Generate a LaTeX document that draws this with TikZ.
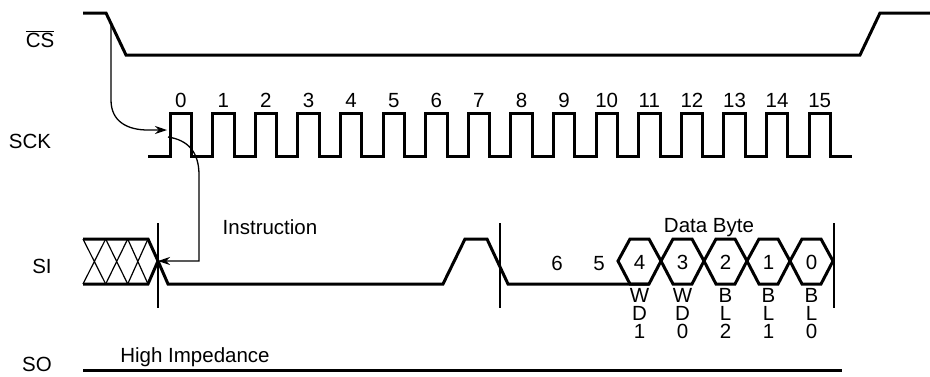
\documentclass[tikz,border=0pt]{standalone}
\usepackage{fontspec}
\setmainfont{Liberation Sans}
\usetikzlibrary{arrows.meta}

\begin{document}
\begin{tikzpicture}[x=1pt,y=-1pt,
        wave/.style={line width=3pt},
        hatchline/.style={line width=1.2pt},
        marker/.style={line width=2pt},
        conn/.style={line width=1.3pt,-{Stealth[length=12pt,width=8pt]}},
        lbl/.style={font=\fontsize{20.5}{18}\selectfont,inner sep=0pt}]
    \useasboundingbox (0,0) rectangle (930,376);
    % signal names
    \node[lbl,anchor=base] (cs) at (40,47) {$\overline{\hbox{CS}}$};
    \node[lbl,anchor=base] (sck) at (30,148) {SCK};
    \node[lbl,anchor=base] (si) at (42,273) {SI};
    \node[lbl,anchor=base] (so) at (37,371) {SO};
    % chip select
    \draw[wave] (83,13) -- (106,13) -- (126,55) -- (860,55) -- (880,13) -- (930,13);
    % clock
    \draw[wave] (148,156) \foreach \i in {0,...,15} {
            -- ({170+42.6*\i},156) -- ({170+42.6*\i},113)
            -- ({191.5+42.6*\i},113) -- ({191.5+42.6*\i},156)} -- (852,156);
    \foreach \i in {0,...,15}
        \node[lbl,anchor=base] (clk\i) at ({180.7+42.6*\i},107) {\i};
    % serial in
    \foreach \a/\b in {83/105.7,105.7/127.7,127.7/148}
        \draw[hatchline] (\a,239) -- (\b,284) (\a,284) -- (\b,239);
    \draw[wave] (83,284) -- (148,284) -- (158,261);
    \draw[wave] (83,239) -- (148,239) -- (158,261) -- (168,284) -- (443,284)
        -- (465,239) -- (487,239) -- (508,284) -- (649,284);
    \foreach \x in {158,500,834}
        \draw[marker] (\x,223) -- (\x,308);
    \node[lbl,anchor=base] (instr) at (270,234) {Instruction};
    \node[lbl,anchor=base] (databyte) at (709,232) {Data Byte};
    \node[lbl,anchor=base] (bit6) at (557,270) {6};
    \node[lbl,anchor=base] (bit5) at (599,270) {5};
    \foreach \k/\bit/\sub in {0/4/{W\\D\\1},1/3/{W\\D\\0},2/2/{B\\L\\2},3/1/{B\\L\\1},4/0/{B\\L\\0}} {
        \draw[wave] ({618+43*\k},261) -- ({630+43*\k},239) -- ({649+43*\k},239)
            -- ({661+43*\k},261) -- ({649+43*\k},284) -- ({630+43*\k},284) -- cycle;
        \node[lbl,anchor=base] (bit\bit) at ({639.5+43*\k},269) {\bit};
        \node[lbl,align=center,anchor=north] (sub\bit) at ({639.5+43*\k},288) {\sub};
    }
    % serial out
    \draw[wave] (83,370) -- (842,370);
    \node[lbl,anchor=base] (hiz) at (195,362) {High Impedance};
    % timing arrows
    \coordinate (csfall) at (111,24);
    \coordinate (clkrise) at (167,130);
    \coordinate (clkstart) at (168,137);
    \coordinate (sitip) at (158,261);
    \draw[conn] (csfall) -- (111,100) .. controls (111,122) and (128,130) .. (148,130) -- (clkrise);
    \draw[conn] (clkstart) .. controls (188,140) and (199,152) .. (199,175) -- (199,261) -- (sitip);
\end{tikzpicture}
\end{document}
